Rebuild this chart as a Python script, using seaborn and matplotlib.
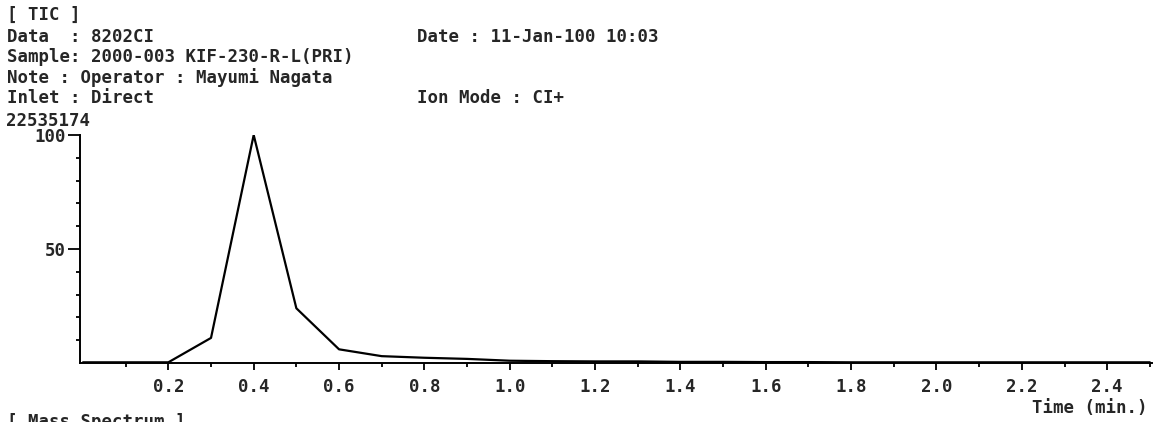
import matplotlib
matplotlib.use("Agg")
import matplotlib.pyplot as plt
import seaborn as sns
import pandas as pd

# ---- data ----
time_min = [0.0, 0.1, 0.2, 0.3, 0.4, 0.5, 0.6, 0.7, 0.8, 0.9, 1.0, 1.1, 1.2,
            1.3, 1.4, 1.5, 1.6, 1.7, 1.8, 1.9, 2.0, 2.1, 2.2, 2.3, 2.4, 2.5]
rel_intensity = [0.3, 0.3, 0.3, 11.0, 100.0, 24.0, 6.0, 3.0, 2.3, 1.8, 1.0, 0.8, 0.7,
                 0.7, 0.5, 0.5, 0.4, 0.4, 0.3, 0.3, 0.3, 0.3, 0.3, 0.3, 0.3, 0.3]
x_major = [0.2, 0.4, 0.6, 0.8, 1.0, 1.2, 1.4, 1.6, 1.8, 2.0, 2.2, 2.4]
x_labels = ["0.2", "0.4", "0.6", "0.8", "1.0", "1.2", "1.4", "1.6", "1.8", "2.0", "2.2", "2.4"]
x_minor = [0.1, 0.3, 0.5, 0.7, 0.9, 1.1, 1.3, 1.5, 1.7, 1.9, 2.1, 2.3, 2.5]
y_major = [50, 100]
y_labels = ["50", "100"]
y_minor = [10, 20, 30, 40, 60, 70, 80, 90]

header_left = ["[ TIC ]", "Data  : 8202CI", "Sample: 2000-003 KIF-230-R-L(PRI)",
               "Note : Operator : Mayumi Nagata", "Inlet : Direct"]
header_right = {"Date : 11-Jan-100 10:03": 1, "Ion Mode : CI+": 4}
max_count = "22535174"
x_title = "Time (min.)"
footer = "[ Mass Spectrum ]"

sns.set_style("white")
FONT = "DejaVu Sans Mono"
plt.rcParams["font.family"] = [FONT, "DejaVu Sans"]
FS = 12.5

W, H = 1166, 422
fig = plt.figure(figsize=(W / 100, H / 100), dpi=100)
ax = fig.add_axes([80 / W, (H - 363) / H, (1152 - 80) / W, 228 / H])

df = pd.DataFrame({"t": time_min, "i": rel_intensity})
sns.lineplot(data=df, x="t", y="i", ax=ax, color="black", linewidth=1.6)

ax.set_xlim(-0.007, 2.505)
ax.set_ylim(0, 100)
ax.set_xlabel("")
ax.set_ylabel("")

for s in ["top", "right"]:
    ax.spines[s].set_visible(False)
for s in ["left", "bottom"]:
    ax.spines[s].set_linewidth(1.4)
    ax.spines[s].set_color("black")

ax.set_xticks(x_major)
ax.set_xticklabels(x_labels, fontsize=FS, fontweight="bold")
ax.set_xticks(x_minor, minor=True)
ax.set_yticks(y_major)
ax.set_yticklabels(y_labels, fontsize=FS, fontweight="bold")
ax.set_yticks(y_minor, minor=True)

ax.tick_params(axis="x", which="major", direction="out", length=5, width=1.3,
               color="black", pad=6, bottom=True)
ax.tick_params(axis="x", which="minor", direction="out", length=3, width=1.3,
               color="black", bottom=True)
ax.tick_params(axis="y", which="major", direction="out", length=9, width=1.3,
               color="black", pad=1, left=True)
ax.tick_params(axis="y", which="minor", direction="out", length=3, width=1.3,
               color="black", left=True)

def fy(py):
    return 1 - py / H

baselines = [20, 42, 62, 83, 103]
for txt, b in zip(header_left, baselines):
    fig.text(7 / W, fy(b), txt, fontsize=FS, fontweight="bold", va="baseline", ha="left")
for txt, idx in header_right.items():
    fig.text(417 / W, fy(baselines[idx]), txt, fontsize=FS, fontweight="bold",
             va="baseline", ha="left")
fig.text(6 / W, fy(126), max_count, fontsize=FS, fontweight="bold", va="baseline", ha="left")
fig.text(1148 / W, fy(413), x_title, fontsize=FS, fontweight="bold", va="baseline", ha="right")
fig.text(7 / W, fy(427), footer, fontsize=FS, fontweight="bold", va="baseline", ha="left")

fig.savefig("out.png", dpi=100, facecolor="white")
